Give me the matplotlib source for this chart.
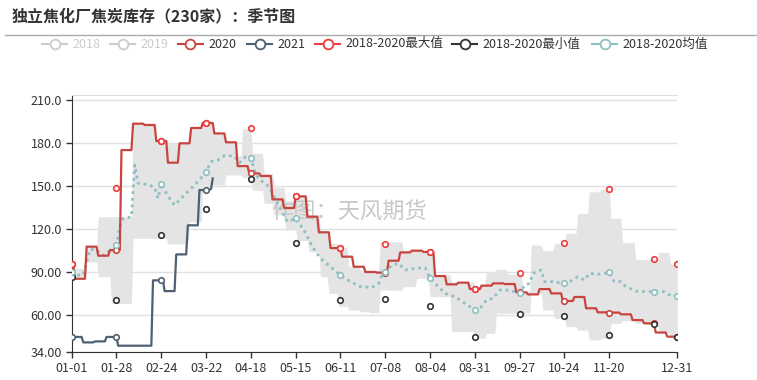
import numpy as np
import pandas as pd
import matplotlib
matplotlib.use("Agg")
import matplotlib.pyplot as plt
from matplotlib.lines import Line2D

plt.rcParams["font.family"] = ["Noto Sans CJK SC", "DejaVu Sans"]

title = "独立焦化厂焦炭库存（230家）：季节图"
watermark = "作图：天风期货"

# 2020：周度数据，按变动日期保持
s2020_dates = ["01-01", "01-03", "01-10", "01-17", "01-24", "01-31", "02-07", "02-14",
               "02-21", "02-28", "03-06", "03-13", "03-20", "03-27", "04-03", "04-10",
               "04-17", "04-24", "05-01", "05-08", "05-15", "05-22", "05-29", "06-05",
               "06-12", "06-19", "06-26", "07-03", "07-10", "07-17", "07-24", "07-31",
               "08-07", "08-14", "08-21", "08-28", "09-04", "09-11", "09-18", "09-25",
               "10-02", "10-09", "10-16", "10-23", "10-30", "11-06", "11-13", "11-20",
               "11-27", "12-04", "12-11", "12-18", "12-25"]
s2020_vals = [95.6, 85.3, 107.7, 101.4, 105.3, 175.1, 193.5, 192.6,
              181.4, 166.3, 179.8, 190.5, 194.0, 186.7, 180.5, 163.9,
              158.8, 157.0, 140.7, 134.7, 142.8, 128.6, 117.7, 106.7,
              100.7, 93.7, 90.0, 89.6, 97.9, 103.7, 104.9, 104.0,
              87.2, 81.4, 82.6, 78.1, 80.5, 82.1, 81.6, 75.8,
              74.4, 78.1, 75.1, 69.8, 72.6, 64.7, 61.9, 61.7,
              60.5, 56.5, 54.2, 47.8, 44.9]

# 2021
s2021_dates = ["01-01", "01-08", "01-15", "01-22", "01-29", "02-19", "02-26", "03-04",
               "03-11", "03-18", "03-25", "03-26"]
s2021_vals = [44.7, 40.9, 41.6, 44.7, 38.6, 84.2, 76.7, 102.3,
              122.6, 147.2, 148.1, 155.3]
s2021_end = "03-26"

# 2018-2020 区间（最大/最小）
band_dates = ["01-01", "01-10", "01-17", "01-25", "02-07", "02-14", "02-21", "02-28",
              "03-12", "03-20", "03-27", "04-03", "04-10", "04-13", "04-19", "04-26",
              "05-02", "05-09", "05-16", "05-23", "05-30", "06-04", "06-10", "06-16",
              "06-23", "06-29", "07-05", "07-19", "07-27", "08-04", "08-07", "08-17",
              "08-31", "09-07", "09-13", "09-20", "09-29", "10-04", "10-11", "10-18",
              "10-25", "11-01", "11-08", "11-15", "11-21", "11-28", "12-06", "12-13",
              "12-20", "12-27"]
band_high = [92.5, 107.7, 128.6, 128.6, 193.7, 192.6, 182.5, 180.0,
             190.9, 194.4, 187.2, 180.5, 171.0, 190.2, 172.8, 158.8,
             149.0, 140.0, 143.0, 130.0, 119.0, 110.0, 107.0, 94.0,
             91.5, 90.5, 111.2, 105.0, 105.0, 104.2, 88.0, 83.0,
             80.2, 90.2, 91.9, 88.4, 77.0, 108.8, 104.9, 110.0,
             117.0, 130.9, 146.0, 147.7, 127.4, 110.5, 98.8, 98.8,
             103.7, 95.3]
band_low = [86.7, 97.0, 86.7, 68.1, 113.5, 113.5, 113.5, 109.5,
            125.0, 150.7, 150.7, 157.7, 157.7, 156.0, 147.0, 138.0,
            130.0, 119.3, 112.0, 104.0, 86.7, 75.1, 65.8, 63.5,
            62.3, 61.6, 77.4, 79.8, 85.6, 72.8, 72.8, 48.4,
            43.7, 47.2, 61.2, 61.2, 61.2, 75.1, 63.5, 57.7,
            51.9, 49.5, 42.6, 43.7, 54.2, 56.0, 54.2, 53.5,
            47.8, 44.9]

# 2018-2020 均值
mean_dates = ["01-01", "01-04", "01-08", "01-10", "01-12", "01-16", "01-18", "01-21",
              "01-24", "01-26", "01-28", "01-30", "02-01", "02-06", "02-08", "02-10",
              "02-16", "02-20", "02-22", "02-24", "02-28", "03-03", "03-08", "03-12",
              "03-18", "03-22", "03-25", "03-29", "04-02", "04-08", "04-11", "04-15",
              "04-18", "04-21", "04-25", "04-29", "05-04", "05-10", "05-15", "05-20",
              "05-25", "05-30", "06-05", "06-11", "06-17", "06-23", "06-30", "07-04",
              "07-06", "07-08", "07-12", "07-16", "07-20", "07-26", "08-01", "08-04",
              "08-09", "08-13", "08-19", "08-25", "08-31", "09-04", "09-07", "09-11",
              "09-15", "09-19", "09-24", "09-27", "09-30", "10-03", "10-05", "10-10",
              "10-12", "10-17", "10-21", "10-24", "10-29", "11-01", "11-05", "11-08",
              "11-13", "11-17", "11-20", "11-23", "11-27", "11-30", "12-06", "12-12",
              "12-17", "12-23", "12-28", "12-31"]
mean_vals = [90.2, 87.8, 88.0, 97.0, 105.8, 105.5, 103.0, 101.5,
             105.0, 104.0, 108.6, 122.0, 127.4, 128.5, 164.7, 151.9,
             151.0, 149.0, 141.4, 151.6, 143.0, 136.7, 142.6, 147.2,
             154.2, 159.8, 167.0, 168.0, 171.2, 171.0, 166.3, 170.5,
             169.8, 157.7, 153.0, 149.5, 137.9, 125.1, 127.4, 119.3,
             107.7, 99.5, 93.7, 87.7, 83.3, 79.8, 79.3, 82.1,
             87.8, 90.0, 94.9, 96.0, 91.4, 92.6, 93.0, 85.6,
             79.8, 75.1, 72.8, 68.1, 63.5, 65.8, 70.5, 71.6,
             77.4, 77.4, 76.3, 75.1, 80.9, 82.1, 89.1, 91.4,
             83.3, 83.3, 82.5, 82.1, 84.4, 86.7, 84.4, 89.1,
             88.4, 89.1, 89.8, 83.3, 83.3, 79.8, 76.7, 76.3,
             76.3, 76.3, 72.8, 73.5]

# 标记点处的最大/最小值
max_marks = [95.6, 148.8, 181.4, 194.0, 190.2, 142.8, 106.7, 109.5,
             104.2, 77.9, 89.1, 110.2, 147.7, 99.1, 95.3]
min_marks = [86.7, 70.2, 115.6, 133.7, 155.1, 110.0, 70.5, 71.2,
             66.5, 44.4, 60.9, 59.3, 46.0, 53.7, 44.9]

c2020 = "#c8453f"
c2021 = "#4f6071"
cmax = "#f03c3c"
cmin = "#333333"
cmean = "#8fbfc2"
cband = "#e4e4e4"

days = pd.date_range("2020-01-01", "2020-12-31")
n_days = len(days)
x = np.arange(n_days)


def doy(md):
    return (pd.Timestamp("2020-" + md) - days[0]).days


def hold(dates, vals, end=None):
    starts = [doy(d) for d in dates]
    last = n_days - 1 if end is None else doy(end)
    out = np.full(last + 1, np.nan)
    for i, (d, v) in enumerate(zip(starts, vals)):
        nxt = starts[i + 1] if i + 1 < len(starts) else last + 1
        out[d:nxt] = v
    return out


y2020 = hold(s2020_dates, s2020_vals)
y2021 = hold(s2021_dates, s2021_vals, s2021_end)
hi = hold(band_dates, band_high)
lo = hold(band_dates, band_low)
mean_x = np.array([doy(d) for d in mean_dates])
mean_y = np.array(mean_vals)

# 每27天一个标记点，外加最后一天
marks = list(range(0, n_days, 27)) + [n_days - 1]
# 坐标轴标签：最后一个间隔点太靠近年末，不显示
tick_pos = marks[:-2] + [marks[-1]]

W, H = 757, 380
fig = plt.figure(figsize=(W / 100, H / 100), dpi=100)
ax = fig.add_axes([71.7 / W, 1 - 352.3 / H, (677.3 - 71.7) / W, 257 / H])

ax.fill_between(x, lo, hi, color=cband, lw=0, zorder=1)
ax.plot(mean_x, mean_y, color=cmean, lw=2, ls=(0, (1, 1.4)), zorder=3)
ax.plot(x, y2020, color=c2020, lw=1.6, zorder=4)
ax.plot(np.arange(len(y2021)), y2021, color=c2021, lw=1.6, zorder=4)

mk = dict(ls="none", marker="o", ms=4, mfc="white", mew=1.2, zorder=6)
ax.plot(marks, y2020[marks], mec=c2020, **mk)
m21 = [m for m in marks if m < len(y2021)]
ax.plot(m21, y2021[m21], mec=c2021, **mk)
ax.plot(marks, max_marks, mec=cmax, **mk)
ax.plot(marks, min_marks, mec=cmin, **mk)
mean_lookup = dict(zip(mean_x, mean_y))
ax.plot(marks, [mean_lookup[m] for m in marks], mec=cmean, **mk)

ax.set_xlim(0, n_days - 1)
ax.set_ylim(34, 213.3)
yt = [34, 60, 90, 120, 150, 180, 210]
ax.set_yticks(yt)
ax.set_yticklabels(["34.00", "60.00", "90.00", "120.0", "150.0", "180.0", "210.0"])
ax.set_xticks(tick_pos)
ax.set_xticklabels(days[tick_pos].strftime("%m-%d"))
ax.yaxis.grid(True, color="#e0e0e0", lw=1)
ax.set_axisbelow(True)
ax.tick_params(axis="both", labelsize=9, colors="#333333", length=4, width=1, pad=3)
for s in ["left", "bottom"]:
    ax.spines[s].set_color("#333333")
ax.spines["right"].set_visible(False)
ax.spines["top"].set_color("#e0e0e0")

ax.text(0.458, 0.545, watermark, transform=ax.transAxes, fontsize=16,
        color="#c8c8c8", ha="center", va="center", zorder=2)

fig.text(12 / W, 1 - 16 / H, title, fontsize=11.5, fontweight="bold",
         color="#333333", ha="left", va="center")
fig.add_artist(Line2D([5 / W, 1], [1 - 34.5 / H] * 2, color="#aaaaaa", lw=1))

legend_items = [("2018", "#cccccc", "#cccccc"), ("2019", "#cccccc", "#cccccc"),
                ("2020", c2020, "#333333"), ("2021", c2021, "#333333"),
                ("2018-2020最大值", cmax, "#333333"), ("2018-2020最小值", cmin, "#333333"),
                ("2018-2020均值", cmean, "#333333")]
legend_x = [42, 110, 178, 247, 315, 452, 592]
ly = 1 - 44 / H
for (lab, col, tcol), lx in zip(legend_items, legend_x):
    fig.add_artist(Line2D([lx / W, (lx + 25) / W], [ly, ly], color=col, lw=1.5))
    fig.add_artist(Line2D([(lx + 12.5) / W], [ly], ls="none", marker="o", ms=7,
                          mfc="white", mec=col, mew=1.3))
    fig.text((lx + 30) / W, ly, lab, fontsize=9, color=tcol, ha="left", va="center")

fig.savefig("out.png", dpi=100)
